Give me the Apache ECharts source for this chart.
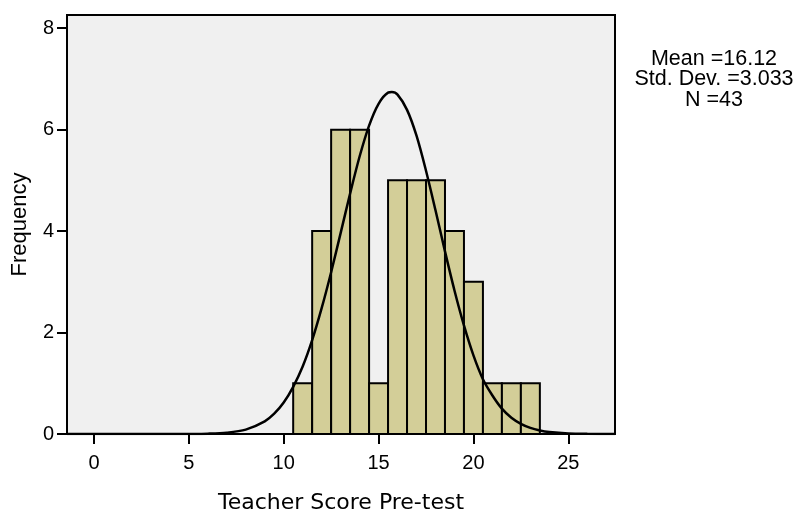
<!DOCTYPE html>
<html>
<head>
<meta charset="utf-8">
<script src="https://cdn.jsdelivr.net/npm/echarts@6/dist/echarts.min.js"></script>
<style>
  html, body { margin: 0; padding: 0; background: #ffffff; }
  #chart { width: 798px; height: 519px; }
</style>
</head>
<body>
<div id="chart"></div>
<script>
// Histogram bins (bin centre, width 1) and their counts
const binCenters = [11, 12, 13, 14, 15, 16, 17, 18, 19, 20, 21, 22, 23];
const frequencies = [1, 4, 6, 6, 1, 5, 5, 5, 4, 3, 1, 1, 1];

// Fitted normal curve, sampled points [score, frequency]
const curveX = [-1.42, 2, 4, 5, 6, 7, 8, 9, 9.5, 10, 10.5, 11, 11.5, 12, 12.5, 13, 13.5, 14, 14.5, 15, 15.5, 15.7,
  16, 16.5, 17, 17.5, 18, 18.5, 19, 19.5, 20, 20.5, 21, 21.5, 22, 22.5, 23, 23.5, 24, 25, 26, 27.46];
const curveY = [0, 0, 0.0003, 0.0015, 0.0066, 0.026, 0.086, 0.25, 0.40, 0.62, 0.93, 1.33, 1.85, 2.48, 3.19, 3.96, 4.74, 5.47, 6.08, 6.51, 6.73, 6.74,
  6.69, 6.39, 5.88, 5.19, 4.41, 3.60, 2.83, 2.14, 1.55, 1.08, 0.76, 0.50, 0.32, 0.20, 0.12, 0.07, 0.04, 0.012, 0.004, 0.001];

// Axis ticks
const xTicks = [0, 5, 10, 15, 20, 25];
const yTicks = [0, 2, 4, 6, 8];

// Summary statistics
const statLines = ['Mean =16.12', 'Std. Dev. =3.033', 'N =43'];

const chart = echarts.init(document.getElementById('chart'), null, { renderer: 'canvas' });

const barData = binCenters.map((c, i) => [c, frequencies[i]]);
const curveData = curveX.map((x, i) => [x, curveY[i]]);

const labelFont = { fontFamily: 'Liberation Sans', fontSize: 20, color: '#000' };

chart.setOption({
  animation: false,
  backgroundColor: '#ffffff',
  grid: {
    left: 67, right: 183, top: 15, bottom: 85,
    outerBoundsMode: 'none',
    containLabel: false,
    show: true, backgroundColor: '#f0f0f0', borderColor: '#000', borderWidth: 2
  },
  xAxis: {
    type: 'value',
    min: -1.42, max: 27.46,
    name: 'Teacher Score Pre-test',
    nameLocation: 'middle',
    nameGap: 58,
    nameTextStyle: { fontFamily: 'DejaVu Sans', fontSize: 22, color: '#000' },
    axisLine: { show: true, onZero: false, lineStyle: { color: '#000', width: 2 } },
    axisTick: { show: true, length: 10, lineStyle: { color: '#000', width: 2 }, customValues: xTicks },
    axisLabel: Object.assign({ margin: 19, customValues: xTicks }, labelFont),
    splitLine: { show: false }
  },
  yAxis: {
    type: 'value',
    min: 0, max: 8.26,
    name: 'Frequency',
    nameLocation: 'middle',
    nameGap: 36,
    nameRotate: 90,
    nameTextStyle: { fontFamily: 'Liberation Sans', fontSize: 22, color: '#000' },
    axisLine: { show: true, onZero: false, lineStyle: { color: '#000', width: 2 } },
    axisTick: { show: true, length: 10, lineStyle: { color: '#000', width: 2 }, customValues: yTicks },
    axisLabel: Object.assign({ margin: 13, customValues: yTicks }, labelFont),
    splitLine: { show: false }
  },
  series: [
    {
      type: 'custom',
      data: barData,
      z: 2,
      renderItem: function (params, api) {
        const c = api.value(0);
        const v = api.value(1);
        const p0 = api.coord([c - 0.5, v]);
        const p1 = api.coord([c + 0.5, 0]);
        return {
          type: 'rect',
          shape: { x: p0[0], y: p0[1], width: p1[0] - p0[0], height: p1[1] - p0[1] },
          style: { fill: '#d3ce98', stroke: '#000', lineWidth: 2 }
        };
      }
    },
    {
      type: 'line',
      data: curveData,
      smooth: 0.3,
      showSymbol: false,
      z: 3,
      lineStyle: { color: '#000', width: 2.5 }
    }
  ],
  graphic: statLines.map((t, i) => ({
    type: 'text',
    x: 714, y: 59 + i * 20.5,
    style: {
      text: t, fill: '#000', align: 'center', verticalAlign: 'middle',
      font: '21.5px "Liberation Sans"'
    }
  }))
});
</script>
</body>
</html>
